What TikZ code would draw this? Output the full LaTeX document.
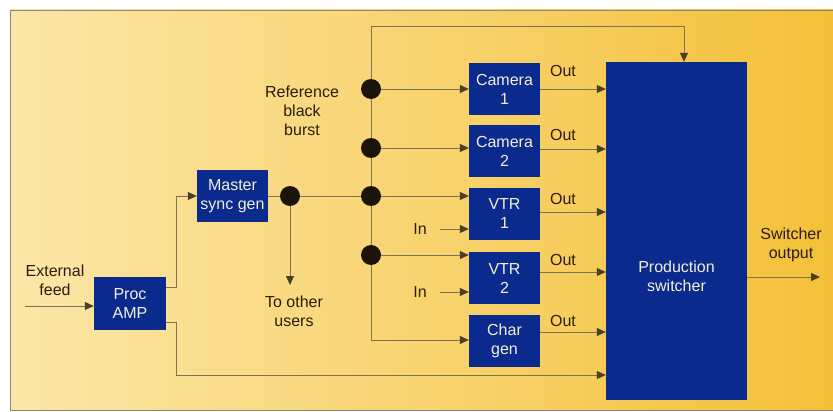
\documentclass[tikz,border=0pt]{standalone}
\usepackage{fontspec}
\setmainfont{Liberation Sans}
\usetikzlibrary{arrows.meta,positioning,calc}
\definecolor{bgL}{HTML}{FCE7A8}
\definecolor{bgR}{HTML}{F4C038}
\definecolor{boxblue}{HTML}{0B2A8E}
\definecolor{boxtxt}{HTML}{F2F0DA}
\definecolor{lbl}{HTML}{2A1E0A}
\definecolor{wire}{HTML}{7D7352}
\definecolor{tip}{HTML}{4A4028}
\definecolor{dotc}{HTML}{1C140A}
\definecolor{frame}{HTML}{8A8678}
\begin{document}
\begin{tikzpicture}[x=1pt,y=-1pt,
  font=\fontsize{16}{19}\selectfont,
  blk/.style={draw=none,fill=boxblue,text=boxtxt,align=center,inner sep=0pt,minimum width=71pt,minimum height=52pt},
  lab/.style={text=lbl,align=center,inner sep=0pt},
  dotn/.style={circle,fill=dotc,inner sep=0pt,minimum size=20pt},
  wl/.style={draw=wire,line width=0.8pt},
  arr/.style={wl,-{Triangle[length=9pt,width=8pt,fill=tip,color=tip]}}
]
\useasboundingbox (0,0) rectangle (833,412);
\fill[white] (0,0) rectangle (833,412);
\shade[left color=bgL,right color=bgR] (10,10) rectangle (833,410);
\draw[frame,line width=0.8pt] (833,10) -- (10,10) -- (10,410) -- (833,410);

% nodes
\node[blk,minimum width=72pt,minimum height=53pt] (proc) at (130,303.5) {Proc\\AMP};
\node[blk] (master) at (232.5,196) {Master\\sync gen};
\node[blk] (cam1) at (504.5,89) {Camera\\1};
\node[blk] (cam2) at (504.5,151) {Camera\\2};
\node[blk] (vtr1) at (504.5,213.5) {VTR\\1};
\node[blk] (vtr2) at (504.5,278) {VTR\\2};
\node[blk] (char) at (504.5,340.5) {Char\\gen};
\node[blk,minimum width=141pt,minimum height=338pt,
  label={[text=boxtxt,align=center,inner sep=0pt,yshift=-45pt]center:Production\\switcher}] (sw) at (676.5,231) {};

\node[dotn] (d0) at (290,196) {};
\node[dotn] (d1) at (371,89) {};
\node[dotn] (d2) at (371,148) {};
\node[dotn] (d3) at (371,196) {};
\node[dotn] (d4) at (371,255) {};

\coordinate (ext) at (25,306);
\coordinate (tou) at (290,285);
\coordinate (bustop) at (371,26);
\coordinate (busbot) at (371,340);
\coordinate (swout) at (820,277);

% labels
\node[lab] (extl) at (55,280) {External\\feed};
\node[lab] (toul) at (294,311) {To other\\users};
\node[lab] (refl) at (302,111) {Reference\\black\\burst};
\node[lab] (swl) at (791,245) {Switcher\\output};
\node[lab] (in1) at (420,229) {In};
\node[lab] (in2) at (420,292) {In};
\node[lab] (o1) at (563,71) {Out};
\node[lab] (o2) at (563,135) {Out};
\node[lab] (o3) at (563,199) {Out};
\node[lab] (o4) at (563,260) {Out};
\node[lab] (o5) at (563,321) {Out};

% connectors
\draw[arr] (ext) -- (ext -| proc.west);
\draw[arr] ([yshift=16.5pt]proc.east) -- ++(10,0) |- (master.west);
\draw[arr] ([yshift=-18.5pt]proc.east) -- ++(10,0) |- ([yshift=-144pt]sw.west);
\draw[wl] (master.east) -- (d0);
\draw[wl] (d0) -- (d3);
\draw[arr] (d0) -- (tou);
\draw[arr] (d1) -- (bustop) -| ([xshift=7.5pt]sw.north);
\draw[wl] (d1) -- (d2);
\draw[wl] (d2) -- (d3);
\draw[wl] (d3) -- (d4);
\draw[arr] (d4) -- (busbot) -- (busbot -| char.west);
\draw[arr] (d1) -- (d1 -| cam1.west);
\draw[arr] (d2) -- (d2 -| cam2.west);
\draw[arr] (d3) -- (d3 -| vtr1.west);
\draw[arr] (d4) -- (d4 -| vtr2.west);
\draw[arr] ([xshift=20pt]in1.center) -- (in1 -| vtr1.west);
\draw[arr] ([xshift=20pt]in2.center) -- (in2 -| vtr2.west);
\draw[arr] (cam1.east) -- (cam1.east -| sw.west);
\draw[arr] ([yshift=2pt]cam2.east) -- ([yshift=2pt]cam2.east -| sw.west);
\draw[arr] ([yshift=1.5pt]vtr1.east) -- ([yshift=1.5pt]vtr1.east -| sw.west);
\draw[arr] ([yshift=6pt]vtr2.east) -- ([yshift=6pt]vtr2.east -| sw.west);
\draw[arr] ([yshift=8.5pt]char.east) -- ([yshift=8.5pt]char.east -| sw.west);
\draw[arr] ([yshift=-46pt]sw.east) -- (swout);
\end{tikzpicture}
\end{document}
